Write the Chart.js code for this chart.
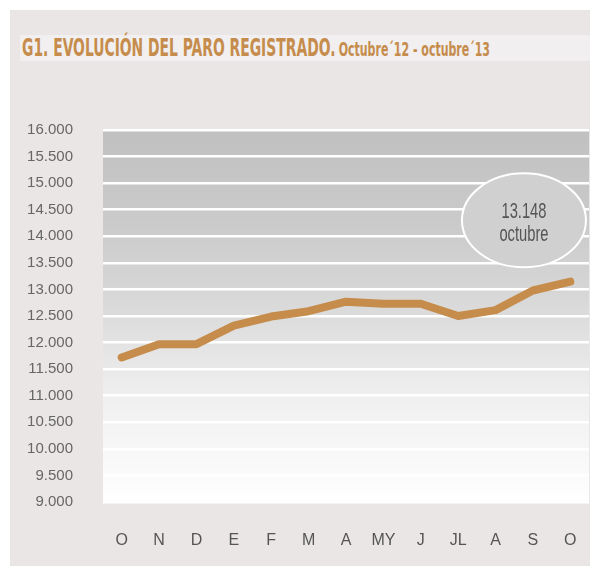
<!DOCTYPE html>
<html>
<head>
<meta charset="utf-8">
<script src="https://cdn.jsdelivr.net/npm/chart.js@4.4.0/dist/chart.umd.min.js"></script>
<style>
html, body { margin: 0; background: #fff; overflow: hidden; width: 590px; height: 566px; }
#panel { position: absolute; left: 10px; top: 10px; width: 580px; height: 556px; background: #ebe6e6; }
#strip { position: absolute; left: 20px; top: 35px; width: 570px; height: 26px; background: #f1efef; }
#title { position: absolute; left: 22px; top: 35px; white-space: nowrap; color: #c68c4c; line-height: 26px;
  font-family: "Liberation Sans Narrow", "DejaVu Sans Condensed", "Liberation Sans", sans-serif; font-weight: bold;
  transform-origin: 0 0; }
#title .big { font-size: 24px; }
#title .small { font-size: 19px; }
#paroChart { position: absolute; left: 0; top: 0; }
</style>
</head>
<body>
<div id="panel"></div>
<div id="strip"></div>
<div id="title"><span class="big">G1. EVOLUCIÓN DEL PARO REGISTRADO.</span> <span class="small">Octubre´12 - octubre´13</span></div>
<canvas id="paroChart" width="590" height="566"></canvas>
<script>
// meses oct-12 .. oct-13
const months = ["O", "N", "D", "E", "F", "M", "A", "MY", "J", "JL", "A", "S", "O"];
// paro registrado (personas)
const paro = [11720, 11970, 11970, 12320, 12490, 12590, 12770, 12730, 12730, 12500, 12610, 12980, 13148];
// eje Y
const yMin = 9000;
const yMax = 16000;
const yStep = 500;
// globo con el ultimo dato
const calloutText = "octubre";
const calloutIndex = 10.76;
const calloutValue = 14300;

function fmt(v) {
    return String(v).replace(/\B(?=(\d{3})+(?!\d))/g, ".");
}

// ajustar el titulo al ancho del original
const title = document.getElementById("title");
title.style.transform = "scaleX(" + (468 / title.scrollWidth) + ")";

const plotBackground = {
    id: "plotBackground",
    beforeDraw(chart) {
        const { ctx, chartArea: a } = chart;
        const g = ctx.createLinearGradient(0, a.top, 0, a.bottom);
        g.addColorStop(0, "#c0c0c0");
        g.addColorStop(0.28, "#cccccc");
        g.addColorStop(0.43, "#d6d6d6");
        g.addColorStop(0.5, "#dcdcdc");
        g.addColorStop(0.71, "#efefef");
        g.addColorStop(0.86, "#f7f7f7");
        g.addColorStop(1, "#ffffff");
        ctx.save();
        ctx.fillStyle = g;
        ctx.fillRect(a.left, a.top, a.right - a.left, a.bottom - a.top);
        ctx.restore();
    }
};

const callout = {
    id: "callout",
    afterDraw(chart) {
        const ctx = chart.ctx;
        const x = chart.scales.x.getPixelForValue(calloutIndex);
        const y = chart.scales.y.getPixelForValue(calloutValue);
        ctx.save();
        ctx.beginPath();
        ctx.ellipse(x, y, 62, 47, 0, 0, Math.PI * 2);
        ctx.fillStyle = "#d0d0d0";
        ctx.fill();
        ctx.lineWidth = 2;
        ctx.strokeStyle = "#ffffff";
        ctx.stroke();
        ctx.fillStyle = "#555555";
        ctx.font = '22px "Liberation Sans Narrow", "Liberation Sans", sans-serif';
        ctx.textAlign = "center";
        ctx.textBaseline = "middle";
        const label = fmt(paro[paro.length - 1]);
        const k = 45 / ctx.measureText(label).width;
        ctx.translate(x, 0);
        ctx.scale(k, 1);
        ctx.fillText(label, 0, y - 8);
        ctx.fillText(calloutText, 0, y + 15);
        ctx.restore();
    }
};

new Chart(document.getElementById("paroChart"), {
    type: "line",
    data: {
        labels: months,
        datasets: [{
            label: "Paro registrado",
            data: paro,
            borderColor: "#c68c4c",
            borderWidth: 8,
            borderCapStyle: "round",
            borderJoinStyle: "round",
            pointRadius: 0,
            tension: 0
        }]
    },
    options: {
        responsive: false,
        devicePixelRatio: 1,
        animation: false,
        layout: { autoPadding: false, padding: { left: 0, top: 130, right: 1, bottom: 0 } },
        plugins: {
            legend: { display: false },
            tooltip: { enabled: false }
        },
        scales: {
            x: {
                offset: true,
                grid: { display: false, drawTicks: false },
                border: { display: false },
                ticks: { color: "#555555", padding: 29, font: { family: "Liberation Sans", size: 16 } },
                afterFit(scale) {
                    scale.height = 64;
                    scale.paddingLeft = 0;
                    scale.paddingRight = 0;
                }
            },
            y: {
                min: yMin,
                max: yMax,
                grid: { color: "#ffffff", lineWidth: 2.5, drawTicks: false },
                border: { display: false },
                ticks: {
                    stepSize: yStep,
                    color: "#666666",
                    padding: 30,
                    font: { family: "Liberation Sans", size: 15 },
                    callback: v => fmt(v)
                },
                afterFit(scale) { scale.width = 103; }
            }
        }
    },
    plugins: [plotBackground, callout]
});
</script>
</body>
</html>
